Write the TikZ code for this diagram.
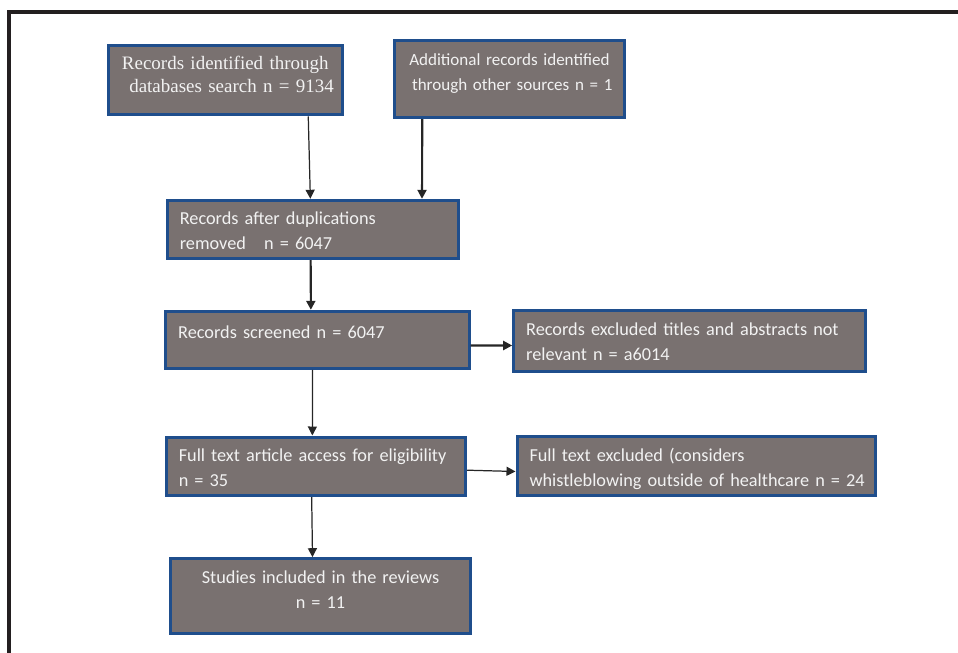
\documentclass[tikz,border=0pt]{standalone}
\usepackage{fontspec}
\setmainfont{Carlito}
\newfontfamily\timesfont{Liberation Serif}
\usetikzlibrary{arrows.meta}
\definecolor{boxgray}{HTML}{797170}
\definecolor{boxblue}{HTML}{1F4E8C}
\definecolor{linegray}{HTML}{262626}
\definecolor{framecol}{HTML}{231F20}
\tikzset{bx/.style={draw=boxblue, fill=boxgray, line width=0.06cm, text=white!95!black,
    inner xsep=0.25cm, inner ysep=0pt, anchor=north west,
    font=\fontsize{10.4pt}{14.2pt}\selectfont},
  lbx/.style={bx, align=left},
  cbx/.style={bx, align=center, inner xsep=0.1cm},
  ar/.style={draw=linegray, line width=0.7pt, -{Triangle[length=1.8mm,width=1.8mm]}},
  art/.style={ar, line width=1.2pt}}

\begin{document}
\begin{tikzpicture}[x=0.02cm, y=-0.02cm]
    \useasboundingbox (0,0) rectangle (958,653);
    \draw[line width=0.08cm, draw=framecol] (9,653) -- (9,11.5) -- (958,11.5);

    % identification
    \node[cbx, font=\timesfont\fontsize{10.8pt}{12.7pt}\selectfont, text width=4.48cm,
      text height=0.49cm, text depth=0.904cm] (ident) at (106.8,43.8)
      {Records identified through\\ \ \ databases search n = 9134};
    \node[cbx, font=\fontsize{9.7pt}{14.2pt}\selectfont, text width=4.39cm,
      text height=0.504cm, text depth=1.044cm] (other) at (393.2,38.8)
      {\mbox{Additional records identified}\\ \mbox{\ through other sources n = 1}};

    % screening
    \node[lbx, text width=5.33cm, text height=0.478cm, text depth=0.69cm] (dedup) at (165.8,198.8)
      {Records after duplications\\ removed\ \ \ n = 6047};
    \node[lbx, text width=5.57cm, text height=0.538cm, text depth=0.602cm] (screen) at (164.2,309.8)
      {Records screened n = 6047};
    \node[lbx, text width=6.54cm, text height=0.504cm, text depth=0.724cm] (excl) at (512.2,308.8)
      {\mbox{Records excluded titles and abstracts not}\\ relevant n = a6014};

    % eligibility
    \node[lbx, text width=5.49cm, text height=0.49cm, text depth=0.684cm] (full) at (164.8,435.5)
      {\mbox{Full text article access for eligibility}\\ n = 35};
    \node[lbx, text width=6.67cm, text height=0.504cm, text depth=0.684cm] (fullex) at (515.5,434.8)
      {Full text excluded (considers\\ \mbox{whistleblowing outside of healthcare n = 24}};

    % included
    \node[cbx, text width=5.81cm, text height=0.49cm, text depth=1.016cm] (incl) at (168.8,557.2)
      {Studies included in the reviews\\ n = 11};

    \draw[ar] ([xshift=1.66cm]ident.south) -- ([xshift=-0.053cm]dedup.north);
    \draw[art] ([xshift=-1.743cm]other.south) -- ([xshift=2.18cm]dedup.north);
    \draw[art] ([xshift=-0.047cm]dedup.south) -- ([xshift=-0.131cm]screen.north);
    \draw[art] ([yshift=-0.114cm]screen.east) -- ([yshift=-0.09cm]excl.west);
    \draw[ar] ([xshift=-0.097cm]screen.south) -- ([xshift=-0.073cm]full.north);
    \draw[ar] ([yshift=-0.077cm]full.east) -- ([yshift=-0.11cm]fullex.west);
    \draw[ar] ([xshift=-0.087cm]full.south) -- ([xshift=-0.16cm]incl.north);
\end{tikzpicture}
\end{document}
